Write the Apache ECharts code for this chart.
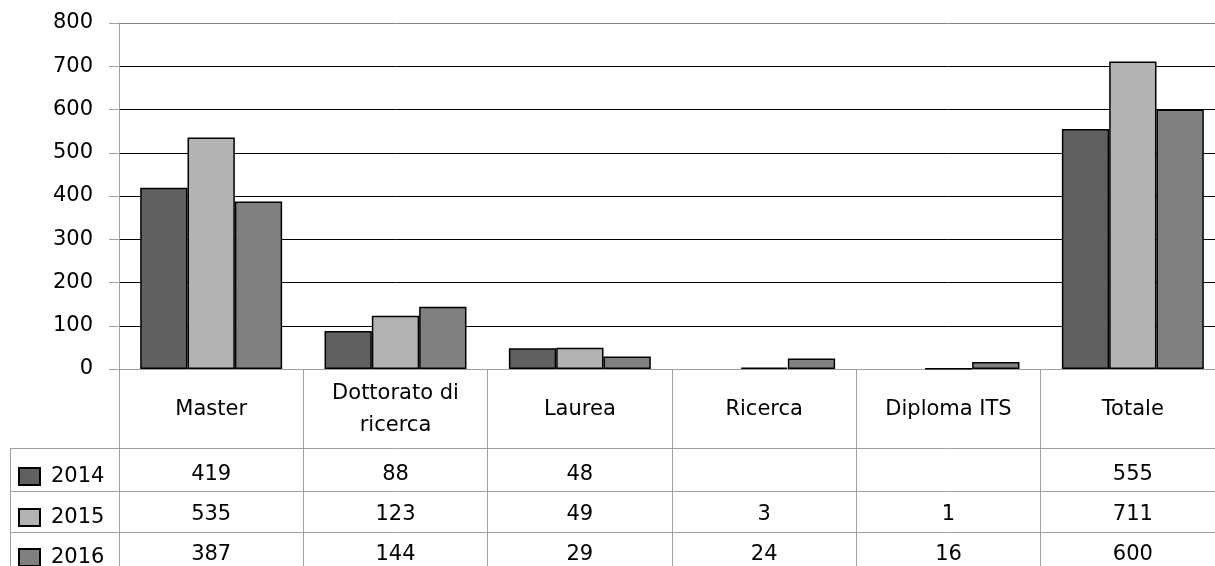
<!DOCTYPE html>
<html>
<head>
<meta charset="utf-8">
<script src="https://cdn.jsdelivr.net/npm/echarts@6/dist/echarts.min.js"></script>
<style>
  html, body { margin: 0; padding: 0; background: #fff; overflow: hidden; }
  /* il grafico originale esce di circa 10px sul bordo destro */
  #chart { width: 1225px; height: 566px; }
</style>
</head>
<body>
<div id="chart"></div>
<script>
  // dati
  const categories = ['Master', 'Dottorato di\nricerca', 'Laurea', 'Ricerca', 'Diploma ITS', 'Totale'];
  const years = ['2014', '2015', '2016'];
  const values2014 = [419, 88, 48, null, null, 555];
  const values2015 = [535, 123, 49, 3, 1, 711];
  const values2016 = [387, 144, 29, 24, 16, 600];
  const yTicks = [0, 100, 200, 300, 400, 500, 600, 700, 800];

  const rows = [values2014, values2015, values2016];
  const colors = ['#606060', '#b3b3b3', '#808080'];
  const lineGray = '#a0a0a0';
  const font = 'DejaVu Sans';

  const chart = echarts.init(document.getElementById('chart'));

  // righe della tabella dati: un asse categoria per ogni anno
  const rowAxes = [
    { offset: 79, margin: 27 },
    { offset: 122, margin: 24 },
    { offset: 163, margin: 23 }
  ].map((cfg, i) => ({
    type: 'category',
    position: 'bottom',
    data: categories,
    offset: cfg.offset,
    axisLine: { show: true, lineStyle: { color: lineGray, width: 1 } },
    axisTick: { show: false },
    axisLabel: {
      interval: 0,
      margin: cfg.margin,
      verticalAlign: 'middle',
      fontFamily: font,
      fontSize: 21,
      color: '#000',
      formatter: (v, idx) => rows[i][idx] == null ? '' : String(rows[i][idx])
    }
  }));

  // una legenda per riga della tabella
  const legendTops = [466, 507, 547];
  const legends = years.map((y, i) => ({
    orient: 'vertical',
    left: 18,
    top: legendTops[i],
    padding: 0,
    itemWidth: 21,
    itemHeight: 17,
    icon: 'rect',
    data: [y],
    textStyle: { fontFamily: font, fontSize: 21, color: '#000', padding: [0, 0, 0, 6] }
  }));

  // linee orizzontali nere, quella in cima grigia
  const splitColors = yTicks.map((t, i) => i === yTicks.length - 1 ? '#808080' : '#000');

  const option = {
    animation: false,
    color: colors,
    grid: { left: 119, top: 23, bottom: 197, right: 0 },
    legend: legends,
    xAxis: [{
      type: 'category',
      data: categories,
      axisLine: { show: true, lineStyle: { color: lineGray, width: 1 } },
      axisTick: { show: true, length: 197, interval: 0, lineStyle: { color: lineGray, width: 1 } },
      axisLabel: {
        interval: 0,
        margin: 41,
        verticalAlign: 'middle',
        fontFamily: font,
        fontSize: 21,
        lineHeight: 32,
        color: '#000'
      }
    }].concat(rowAxes),
    yAxis: {
      type: 'value',
      min: yTicks[0],
      max: yTicks[yTicks.length - 1],
      interval: 100,
      axisLine: { show: true, lineStyle: { color: lineGray, width: 1 } },
      axisTick: { show: true, length: 10, lineStyle: { color: lineGray } },
      axisLabel: { margin: 26, fontFamily: font, fontSize: 21, color: '#000' },
      splitLine: { lineStyle: { color: splitColors, width: 1 } }
    },
    series: years.map((y, i) => ({
      name: y,
      type: 'bar',
      data: rows[i],
      barGap: 0,
      barCategoryGap: '23%',
      itemStyle: { color: colors[i], borderColor: '#000', borderWidth: 1.5 }
    })),
    graphic: [
      // cornice della colonna legenda a sinistra della tabella
      { type: 'line', shape: { x1: 10.5, y1: 448, x2: 10.5, y2: 566 }, style: { stroke: lineGray, lineWidth: 1 } },
      { type: 'line', shape: { x1: 10, y1: 448.5, x2: 119, y2: 448.5 }, style: { stroke: lineGray, lineWidth: 1 } },
      { type: 'line', shape: { x1: 10, y1: 491.5, x2: 119, y2: 491.5 }, style: { stroke: lineGray, lineWidth: 1 } },
      { type: 'line', shape: { x1: 10, y1: 532.5, x2: 119, y2: 532.5 }, style: { stroke: lineGray, lineWidth: 1 } }
    ]
  };

  chart.setOption(option);
</script>
</body>
</html>
